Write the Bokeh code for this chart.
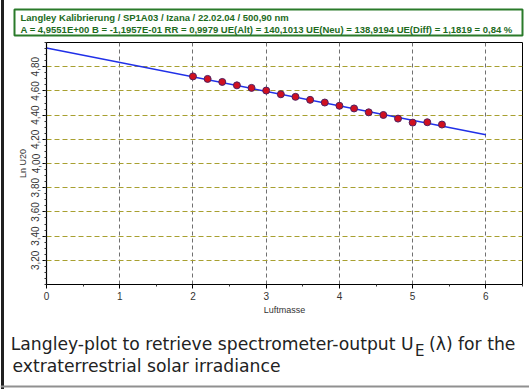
from bokeh.plotting import figure
from bokeh.layouts import column
from bokeh.models import Range1d, FixedTicker, CustomJSTickFormatter
from bokeh.core.properties import value
from bokeh.embed import file_html
from bokeh.resources import INLINE

# ---- data ----
airmass = [2.0, 2.2, 2.4, 2.6, 2.8, 3.0, 3.2, 3.4, 3.6, 3.8, 4.0, 4.2, 4.4, 4.6, 4.8, 5.0, 5.2, 5.4]
ln_u20 = [4.720, 4.699, 4.674, 4.646, 4.625, 4.603, 4.572, 4.551, 4.526, 4.504,
          4.477, 4.455, 4.423, 4.401, 4.371, 4.338, 4.341, 4.322]
fit_A = 4.9551
fit_B = -0.11957
fit_x = [0.0, 6.0]
fit_y = [fit_A + fit_B * v for v in fit_x]

x_ticks = [0, 1, 2, 3, 4, 5, 6]
y_ticks = [3.2, 3.4, 3.6, 3.8, 4.0, 4.2, 4.4, 4.6, 4.8]

title_1 = "Langley Kalibrierung / SP1A03 / Izana / 22.02.04 / 500,90 nm"
title_2 = "A =  4,9551E+00 B = -1,1957E-01 RR = 0,9979 UE(Alt) = 140,1013 UE(Neu) = 138,9194 UE(Diff) = 1,1819 = 0,84 %"
caption_1a = "Langley-plot to retrieve spectrometer-output U"
caption_1b = "E"
caption_1c = "(\u03bb) for the"
caption_2 = "extraterrestrial solar irradiance"

W = 529
H_TOP, H_MAIN, H_BOT = 40, 280, 69


def no_align(f):
    if "frame_align" in f.properties():
        f.frame_align = False
    f.border_fill_alpha = 0
    return f


def blank(height):
    f = figure(width=W, height=height, output_backend="svg", toolbar_location=None,
               x_range=Range1d(0, W), y_range=Range1d(height, 0),
               x_axis_type=None, y_axis_type=None, min_border=0)
    f.outline_line_color = None
    f.background_fill_alpha = 0
    return no_align(f)


# ---- header (title box) ----
top = blank(H_TOP)
top.quad(left=[14], right=[522], top=[9], bottom=[35], fill_color="white",
         line_color="#2a7a2a", line_width=2)
top.text(x=[20, 20], y=[16.5, 28.5], text=[title_1, title_2], text_baseline="middle",
         text_font=value("Liberation Sans"), text_font_style="bold",
         text_font_size="9.5px", text_color="#1d6b1d")

# ---- main plot ----
p = figure(width=W, height=H_MAIN, output_backend="svg", toolbar_location=None,
           x_range=Range1d(0, 6.5), y_range=Range1d(3.0, 5.0),
           min_border_left=46, min_border_right=W - 522, min_border_top=2,
           min_border_bottom=36)
no_align(p)
p.background_fill_color = "white"
p.outline_line_color = "black"
p.outline_line_width = 1

p.xaxis.ticker = FixedTicker(ticks=x_ticks, minor_ticks=[v + 0.5 for v in range(0, 7)])
p.yaxis.ticker = FixedTicker(ticks=y_ticks, minor_ticks=[3.0 + 0.05 * i for i in range(41)])
p.yaxis.formatter = CustomJSTickFormatter(code="return tick.toFixed(2).replace('.', ',');")
p.yaxis.major_label_orientation = "vertical"
for ax in (p.xaxis[0], p.yaxis[0]):
    ax.axis_line_color = "black"
    ax.axis_line_width = 1.2
    ax.major_tick_line_color = "black"
    ax.minor_tick_line_color = "#333333"
    ax.major_tick_in = 0
    ax.major_tick_out = 4
    ax.minor_tick_in = 0
    ax.minor_tick_out = 2
    ax.major_label_text_font = "Liberation Sans"
    ax.major_label_text_font_size = "10px"
    ax.major_label_text_color = "#333333"
    ax.axis_label_text_font = "Liberation Sans"
    ax.axis_label_text_font_size = "9px"
    ax.axis_label_text_font_style = "normal"
    ax.axis_label_text_color = "#333333"
p.xaxis.axis_label = "Luftmasse"
p.yaxis.axis_label = "Ln U20"
p.xaxis.major_label_standoff = 3
p.xaxis.axis_label_standoff = 2
p.yaxis.major_label_standoff = 3
p.yaxis.axis_label_standoff = 1

p.xgrid.ticker = FixedTicker(ticks=[1, 2, 3, 4, 5, 6])
p.xgrid.grid_line_color = "#707070"
p.xgrid.grid_line_dash = "4 3"
p.xgrid.grid_line_width = 1
p.ygrid.grid_line_color = "#a8a030"
p.ygrid.grid_line_dash = "5 3"
p.ygrid.grid_line_width = 1.2

p.line(fit_x, fit_y, line_color="#2030e8", line_width=1.5)
p.scatter(airmass, ln_u20, size=7, fill_color="#d01020", line_color="#502060", line_width=1)

# ---- caption ----
bot = blank(H_BOT)
y0 = H_TOP + H_MAIN
cap_font = value("DejaVu Sans")
bot.text(x=[413], y=[343.5 - y0], text=[caption_1a], text_align="right",
         text_baseline="alphabetic", text_font=cap_font, text_font_size="17.2px",
         text_color="#222222")
bot.text(x=[414.5], y=[350.5 - y0], text=[caption_1b], text_align="left",
         text_baseline="alphabetic", text_font=cap_font, text_font_size="15px",
         text_color="#222222")
bot.text(x=[428.5, 12], y=[343.5 - y0, 365.5 - y0], text=[caption_1c, caption_2],
         text_align="left", text_baseline="alphabetic", text_font=cap_font,
         text_font_size="17.2px", text_color="#222222")
bot.quad(left=[0], right=[W], top=[385 - y0], bottom=[387 - y0], fill_color="#909090",
         line_color=None)

layout = column(top, p, bot, spacing=0)
layout.styles = {"background": "linear-gradient(to right, #ffffff 0px, #ffffff 1px, "
                               "#202020 1px, #202020 4px, #ffffff 4px)"}
open("out.html", "w").write(file_html(layout, INLINE))
